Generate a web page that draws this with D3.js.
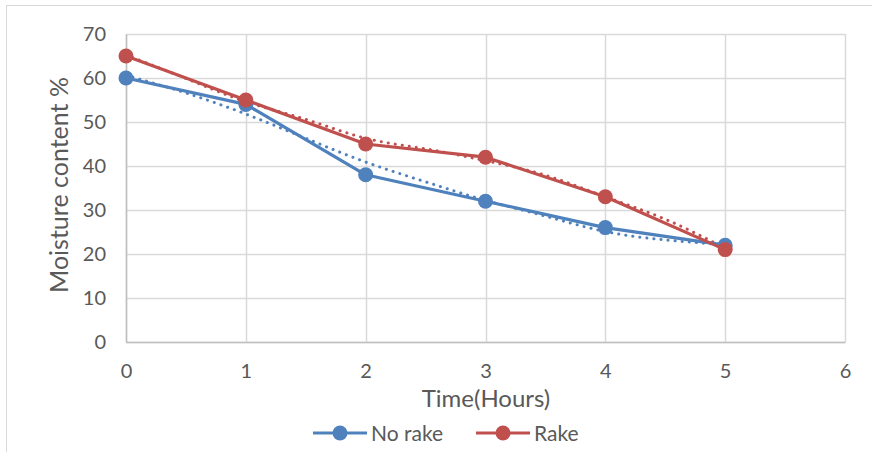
<!DOCTYPE html>
<html>
<head>
<meta charset="utf-8">
<script src="https://cdn.jsdelivr.net/npm/d3@7"></script>
<style>
  html, body { margin: 0; padding: 0; background: #fff; }
  svg { display: block; font-family: Lato, "Noto Sans", sans-serif; }
</style>
</head>
<body>
<svg id="chart" width="872" height="452"></svg>
<script>
// Drying time in hours
const hours = [0, 1, 2, 3, 4, 5];
// Moisture content (%) for each treatment
const noRake = [60, 54, 38, 32, 26, 22];
const rake = [65, 55, 45, 42, 33, 21];
// Smoothed trend readings every half hour
const trendHours = [0, 0.5, 1, 1.5, 2, 2.5, 3, 3.5, 4, 4.5, 5];
const noRakeTrend = [60.6, 56.6, 51.8, 46.3, 40.9, 36.4, 32.2, 28.6, 25.1, 23.2, 22.1];
const rakeTrend = [65.2, 59.9, 54.6, 50.6, 46.3, 43.9, 41.2, 37.9, 33.0, 27.9, 21.3];
const xTicks = [0, 1, 2, 3, 4, 5, 6];
const yTicks = [0, 10, 20, 30, 40, 50, 60, 70];
const seriesNames = ["No rake", "Rake"];
const seriesColors = ["#4F81BD", "#C0504D"];

const textColor = "#595959";
const fontStack = "Lato, 'Noto Sans', sans-serif";

const svg = d3.select("#chart");
const x = d3.scaleLinear().domain([0, 6]).range([126, 845]);
const y = d3.scaleLinear().domain([0, 70]).range([342, 34]);

// Chart frame
svg.append("rect")
  .attr("x", 6.5).attr("y", 5.5).attr("width", 900).attr("height", 500)
  .attr("fill", "none").attr("stroke", "#D9D9D9").attr("stroke-width", 1);

// Gridlines
svg.append("g")
  .selectAll("line")
  .data(yTicks)
  .join("line")
  .attr("x1", x(0)).attr("x2", x(6))
  .attr("y1", d => Math.round(y(d)) + 0.5).attr("y2", d => Math.round(y(d)) + 0.5)
  .attr("stroke", "#D9D9D9").attr("stroke-width", 1.5);

svg.append("g")
  .selectAll("line")
  .data(xTicks)
  .join("line")
  .attr("y1", y(0)).attr("y2", y(70))
  .attr("x1", d => Math.round(x(d)) + 0.5).attr("x2", d => Math.round(x(d)) + 0.5)
  .attr("stroke", "#D9D9D9").attr("stroke-width", 1.5);

// Axes (labels only, no tick marks)
const xAxis = svg.append("g")
  .attr("transform", `translate(0,${y(0)})`)
  .call(d3.axisBottom(x).tickValues(xTicks).tickSize(0).tickPadding(22).tickFormat(d3.format("d")));
xAxis.select(".domain").attr("stroke", "#BFBFBF").attr("stroke-width", 1.5);
xAxis.selectAll("text").attr("font-size", 20).attr("fill", textColor).attr("font-family", fontStack);

const yAxis = svg.append("g")
  .attr("transform", `translate(${x(0)},0)`)
  .call(d3.axisLeft(y).tickValues(yTicks).tickSize(0).tickPadding(20).tickFormat(d3.format("d")));
yAxis.select(".domain").attr("stroke", "#BFBFBF").attr("stroke-width", 1.5);
yAxis.selectAll("text").attr("font-size", 20).attr("fill", textColor).attr("font-family", fontStack);

// Axis titles
svg.append("text")
  .attr("x", 486).attr("y", 407)
  .attr("text-anchor", "middle")
  .attr("font-size", 24).attr("fill", textColor)
  .text("Time(Hours)");

svg.append("text")
  .attr("transform", `translate(68,${y(35) - 3}) rotate(-90)`)
  .attr("text-anchor", "middle")
  .attr("font-size", 25).attr("fill", textColor)
  .text("Moisture content %");

const line = d3.line().x(d => x(d[0])).y(d => y(d[1]));
const trendLine = d3.line().x(d => x(d[0])).y(d => y(d[1])).curve(d3.curveNatural);

const series = [
  { values: noRake, trend: noRakeTrend, color: seriesColors[0] },
  { values: rake, trend: rakeTrend, color: seriesColors[1] }
];

// Dotted trend curves
series.forEach(s => {
  svg.append("path")
    .datum(trendHours.map((h, i) => [h, s.trend[i]]))
    .attr("d", trendLine)
    .attr("fill", "none")
    .attr("stroke", s.color)
    .attr("stroke-width", 3)
    .attr("stroke-linecap", "round")
    .attr("stroke-dasharray", "0.1 7");
});

// Data lines with markers
series.forEach(s => {
  const pts = hours.map((h, i) => [h, s.values[i]]);
  svg.append("path")
    .datum(pts)
    .attr("d", line)
    .attr("fill", "none")
    .attr("stroke", s.color)
    .attr("stroke-width", 3.2)
    .attr("stroke-linejoin", "round");
  svg.append("g")
    .selectAll("circle")
    .data(pts)
    .join("circle")
    .attr("cx", d => x(d[0]))
    .attr("cy", d => y(d[1]))
    .attr("r", 7.5)
    .attr("fill", s.color);
});

// Legend
const legendItems = [
  { name: seriesNames[0], color: seriesColors[0], x0: 313 },
  { name: seriesNames[1], color: seriesColors[1], x0: 476 }
];
legendItems.forEach(item => {
  const g = svg.append("g");
  g.append("line")
    .attr("x1", item.x0).attr("x2", item.x0 + 54)
    .attr("y1", 433).attr("y2", 433)
    .attr("stroke", item.color).attr("stroke-width", 3.2);
  g.append("circle")
    .attr("cx", item.x0 + 27).attr("cy", 433).attr("r", 7.5)
    .attr("fill", item.color);
  g.append("text")
    .attr("x", item.x0 + 58).attr("y", 441)
    .attr("font-size", 21).attr("fill", textColor)
    .text(item.name);
});
</script>
</body>
</html>
